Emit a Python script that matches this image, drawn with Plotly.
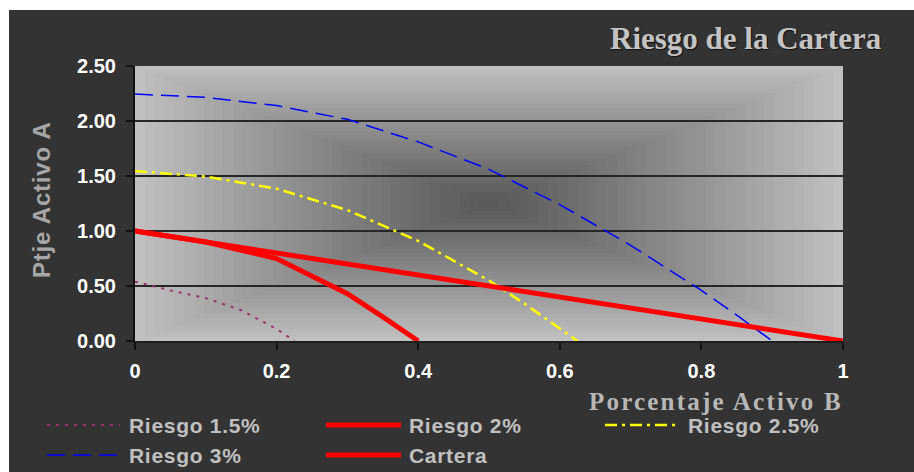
import base64
import struct
import zlib

import numpy as np
import plotly.graph_objects as go

# ---- data -------------------------------------------------------------
SERIES_NAMES = ["Riesgo 1.5%", "Riesgo 2%", "Riesgo 2.5%", "Riesgo 3%", "Cartera"]

riesgo_15_x = [0.0, 0.05, 0.10, 0.15, 0.20, 0.225]
riesgo_15_y = [0.54, 0.46, 0.39, 0.28, 0.11, 0.0]

riesgo_2_x = [0.0, 0.10, 0.20, 0.30, 0.35, 0.40]
riesgo_2_y = [1.00, 0.90, 0.75, 0.43, 0.22, 0.0]

riesgo_25_x = [0.0, 0.10, 0.20, 0.30, 0.40, 0.50, 0.55, 0.60, 0.625]
riesgo_25_y = [1.545, 1.495, 1.385, 1.19, 0.91, 0.55, 0.34, 0.115, 0.0]

riesgo_3_x = [0.0, 0.10, 0.20, 0.30, 0.40, 0.50, 0.60, 0.70, 0.80, 0.85, 0.90]
riesgo_3_y = [2.245, 2.215, 2.14, 2.015, 1.81, 1.56, 1.24, 0.87, 0.46, 0.235, 0.0]

cartera_x = [0.0, 1.0]
cartera_y = [1.0, 0.0]

X_TICKS = [0, 0.2, 0.4, 0.6, 0.8, 1]
X_TICK_TEXT = ["0", "0.2", "0.4", "0.6", "0.8", "1"]
Y_TICKS = [0, 0.5, 1.0, 1.5, 2.0, 2.5]

# ---- geometry (pixels) -------------------------------------------------
W, H = 914, 472
PLOT_L, PLOT_R, PLOT_T, PLOT_B = 135, 843, 66, 341
PW, PH = PLOT_R - PLOT_L, PLOT_B - PLOT_T


def px(xp):
    return (xp - PLOT_L) / PW


def py(yp):
    return (PLOT_B - yp) / PH


# ---- "from centre" rectangular grey gradient for the plot area ----------
def png_gray(arr):
    h, w = arr.shape
    raw = b"".join(b"\x00" + arr[r].tobytes() for r in range(h))

    def chunk(tag, data):
        c = struct.pack(">I", len(data)) + tag + data
        return c + struct.pack(">I", zlib.crc32(tag + data) & 0xFFFFFFFF)

    ihdr = struct.pack(">IIBBBBB", w, h, 8, 0, 0, 0, 0)
    return (b"\x89PNG\r\n\x1a\n" + chunk(b"IHDR", ihdr)
            + chunk(b"IDAT", zlib.compress(raw, 9)) + chunk(b"IEND", b""))


u = np.abs((np.arange(PW) + 0.5) / PW * 2 - 1)
v = np.abs((np.arange(PH) + 0.5) / PH * 2 - 1)
t = np.maximum(u[None, :], v[:, None])
t = np.ceil(t * 36) / 36
shade = (88 + 104 * t ** 1.1).clip(0, 255).astype(np.uint8)
bg_uri = "data:image/png;base64," + base64.b64encode(png_gray(shade)).decode()

# ---- styles ------------------------------------------------------------
STYLES = {
    "Riesgo 1.5%": dict(color="#993366", width=2, dash="3px,6px"),
    "Riesgo 2%": dict(color="#FF0000", width=5, dash="solid"),
    "Riesgo 2.5%": dict(color="#FFFF00", width=2.5, dash="12px,5px,3px,5px"),
    "Riesgo 3%": dict(color="#0000FF", width=1.5, dash="18px,8px"),
    "Cartera": dict(color="#FF0000", width=5, dash="solid"),
}

series = [
    ("Riesgo 1.5%", riesgo_15_x, riesgo_15_y),
    ("Riesgo 2%", riesgo_2_x, riesgo_2_y),
    ("Riesgo 2.5%", riesgo_25_x, riesgo_25_y),
    ("Riesgo 3%", riesgo_3_x, riesgo_3_y),
    ("Cartera", cartera_x, cartera_y),
]

fig = go.Figure()
for name, xs, ys in series:
    fig.add_trace(go.Scatter(x=xs, y=ys, mode="lines", name=name,
                             line=STYLES[name], showlegend=False))

# ---- legend drawn below the chart -------------------------------------
legend_pos = {
    "Riesgo 1.5%": (47, 120, 127, 425),
    "Riesgo 2%": (326, 401, 407, 425),
    "Riesgo 2.5%": (605, 677, 686, 425),
    "Riesgo 3%": (47, 120, 127, 455),
    "Cartera": (326, 401, 407, 455),
}

shapes = [
    # dark chart panel
    dict(type="rect", xref="paper", yref="paper", layer="below",
         x0=px(9), x1=px(W + 2), y0=py(H + 2), y1=py(10),
         fillcolor="#333333", line=dict(width=0)),
]
annotations = []
for name in SERIES_NAMES:
    x0, x1, xt, yc = legend_pos[name]
    st = STYLES[name]
    shapes.append(dict(type="line", xref="paper", yref="paper",
                       x0=px(x0), x1=px(x1), y0=py(yc), y1=py(yc),
                       line=dict(color=st["color"], width=st["width"], dash=st["dash"])))
    annotations.append(dict(text=f'<span style="letter-spacing:0.7px">{name}</span>',
                            xref="paper", yref="paper",
                            x=px(xt), y=py(yc), xanchor="left", yanchor="middle",
                            showarrow=False,
                            font=dict(family="Liberation Sans, Arial", size=21,
                                      color="#c0c0c0", weight="bold")))

# titles
annotations.append(dict(text="Riesgo de la Cartera", xref="paper", yref="paper",
                        x=px(884), y=py(38), xanchor="right", yanchor="middle",
                        showarrow=False,
                        font=dict(family="Liberation Serif, Times New Roman", size=31,
                                  color="#c4c4c4", weight="bold",
                                  shadow="1px 1px 1px #111111")))
annotations.append(dict(text='<span style="letter-spacing:2.2px">Porcentaje Activo B</span>',
                        xref="paper", yref="paper",
                        x=px(845), y=py(401), xanchor="right", yanchor="middle",
                        showarrow=False,
                        font=dict(family="Liberation Serif, Times New Roman", size=25,
                                  color="#b8b8b8", weight="bold")))
annotations.append(dict(text='<span style="letter-spacing:0.8px">Ptje Activo A</span>',
                        xref="paper", yref="paper",
                        x=px(41), y=py(200), xanchor="center", yanchor="middle",
                        textangle=-90, showarrow=False,
                        font=dict(family="Liberation Sans, Arial", size=24,
                                  color="#a6a6a6", weight="bold")))

tick_font = dict(family="Liberation Sans, Arial", size=20, color="#ffffff", weight="bold")

fig.update_layout(
    width=W, height=H,
    margin=dict(l=PLOT_L, r=W - PLOT_R, t=PLOT_T, b=H - PLOT_B, pad=0),
    paper_bgcolor="#ffffff",
    plot_bgcolor="#bfbfbf",
    showlegend=False,
    shapes=shapes,
    annotations=annotations,
    images=[dict(source=bg_uri, xref="x", yref="y", x=0, y=2.5,
                 sizex=1, sizey=2.5, sizing="stretch",
                 xanchor="left", yanchor="top", layer="below")],
    xaxis=dict(range=[0, 1], tickvals=X_TICKS, ticktext=X_TICK_TEXT,
               showgrid=False, zeroline=False,
               showline=True, linecolor="#1e1e1e", linewidth=2,
               ticks="outside", ticklen=7, tickwidth=2, tickcolor="#111111",
               tickfont=tick_font, ticklabelstandoff=4, fixedrange=True),
    yaxis=dict(range=[0, 2.5], tickvals=Y_TICKS, tickformat=".2f",
               showgrid=True, gridcolor="#262626", gridwidth=1.5, zeroline=False,
               showline=True, linecolor="#111111", linewidth=2,
               ticks="outside", ticklen=7, tickwidth=2, tickcolor="#111111",
               tickfont=tick_font, ticklabelstandoff=6, fixedrange=True),
)

fig.write_html("out.html")
